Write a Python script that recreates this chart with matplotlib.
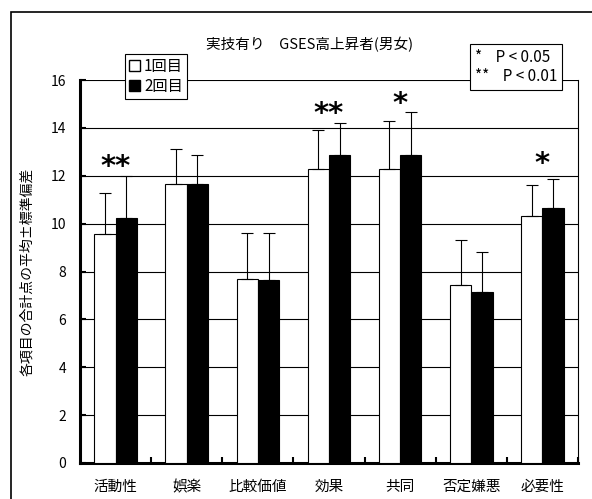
import matplotlib.pyplot as plt
import matplotlib.patches as mpatches
import numpy as np

plt.rcParams['font.family'] = ['Noto Sans CJK JP', 'DejaVu Sans']

categories = ['活動性', '娯楽', '比較価値', '効果', '共同', '否定嫌悪', '必要性']
mean1 = [9.55, 11.65, 7.7, 12.3, 12.3, 7.45, 10.3]
top1 = [11.3, 13.1, 9.6, 13.9, 14.3, 9.3, 11.6]
mean2 = [10.25, 11.65, 7.65, 12.85, 12.85, 7.15, 10.65]
top2 = [12.0, 12.85, 9.6, 14.2, 14.65, 8.8, 11.85]
stars = ['**', '', '', '**', '*', '', '*']
star_y = [11.8, 0, 0, 14.0, 14.4, 0, 11.9]

sd1 = np.array(top1) - np.array(mean1)
sd2 = np.array(top2) - np.array(mean2)

fig = plt.figure(figsize=(5.92, 4.99), dpi=100)
ax = fig.add_axes([80/592, 36/499, 498/592, 383/499])

x = np.arange(len(categories))
w = 0.30
ax.bar(x - w/2, mean1, w, color='white', edgecolor='black', linewidth=0.8, zorder=3,
       yerr=[np.zeros(len(sd1)), sd1], error_kw=dict(ecolor='black', elinewidth=0.8, capsize=4, capthick=0.8))
ax.bar(x + w/2, mean2, w, color='black', edgecolor='black', linewidth=0.8, zorder=3,
       yerr=[np.zeros(len(sd2)), sd2], error_kw=dict(ecolor='black', elinewidth=0.8, capsize=4, capthick=0.8))

for i, s in enumerate(stars):
    if s:
        ax.text(x[i], star_y[i], s, ha='center', va='bottom', fontsize=21,
                family='DejaVu Sans', fontweight='bold', zorder=4)

ax.set_xlim(-0.5, len(categories) - 0.5)
ax.set_ylim(0, 16)
ax.set_yticks(np.arange(0, 17, 2))
ax.set_yticklabels([str(v) for v in range(0, 17, 2)], fontsize=10)
ax.yaxis.grid(True, color='black', linewidth=0.8, zorder=0)
ax.set_axisbelow(True)

ax.set_xticks(x)
ax.set_xticklabels(categories, fontsize=10.5)
ax.tick_params(axis='x', length=0, pad=12)
ax.set_xticks(np.arange(0.5, len(categories), 1), minor=True)
ax.tick_params(axis='x', which='minor', direction='in', length=4, width=1.5)
ax.tick_params(axis='y', direction='in', length=4, width=1.5, pad=10)

ax.spines['left'].set_linewidth(2.2)
ax.spines['bottom'].set_linewidth(2.2)
ax.spines['top'].set_visible(False)
ax.spines['right'].set_linewidth(0.8)

ax.set_ylabel('各項目の合計点の平均±標準偏差', fontsize=10, labelpad=12)

fig.text(310/592, 1 - 45/499, '実技有り　GSES高上昇者(男女)', ha='center', va='center', fontsize=10.5)

# outer frame
fig.patches.append(mpatches.Rectangle((11/592, -0.01), 1.0, 1 - 12/499 + 0.01,
                                      transform=fig.transFigure, fill=False,
                                      edgecolor='black', linewidth=1.2))

# legend box
leg = ax.legend(handles=[mpatches.Patch(facecolor='white', edgecolor='black', label='1回目'),
                         mpatches.Patch(facecolor='black', edgecolor='black', label='2回目')],
                loc='upper left', bbox_to_anchor=(125/592, 1 - 54/499), bbox_transform=fig.transFigure,
                fontsize=11, frameon=True, fancybox=False, edgecolor='black', framealpha=1,
                handlelength=0.7, handleheight=0.7, handletextpad=0.3, borderpad=0.25,
                labelspacing=0.2, borderaxespad=0)
leg.get_frame().set_linewidth(0.8)

fig.text(475/592, 1 - 67/499, '*    P < 0.05\n**    P < 0.01', ha='left', va='center', fontsize=11,
         linespacing=1.2,
         bbox=dict(boxstyle='square,pad=0.3', facecolor='white', edgecolor='black', linewidth=0.8))

fig.savefig('out.png', dpi=100)
